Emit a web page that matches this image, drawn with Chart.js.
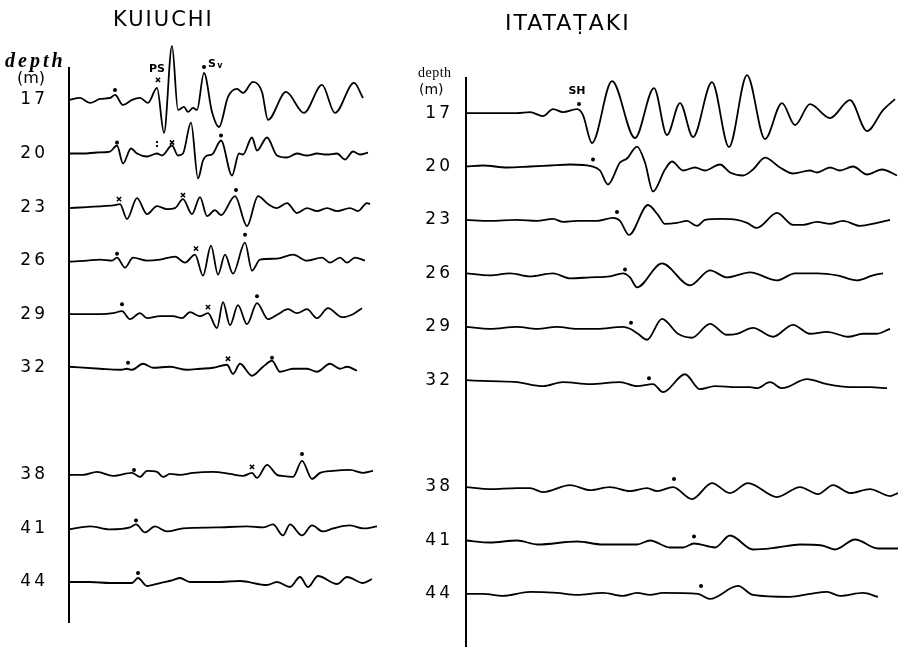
<!DOCTYPE html>
<html>
<head>
<meta charset="utf-8">
<script src="https://cdn.jsdelivr.net/npm/chart.js@4.4.0/dist/chart.umd.min.js"></script>
<style>
  body { margin: 0; background: #fff; width: 898px; height: 647px; position: relative; overflow: hidden; color: #000; font-family: 'DejaVu Sans', sans-serif; }
  canvas { position: absolute; top: 0; }
  .t { position: absolute; white-space: nowrap; line-height: 1; }
</style>
</head>
<body>
<canvas id="kui" width="390" height="647" style="left:0"></canvas>
<canvas id="ita" width="508" height="647" style="left:390px"></canvas>

<div class="t" style="left:113px;top:9px;font-size:21px;letter-spacing:2px">KUIUCHI</div>
<div class="t" style="left:505px;top:12px;font-size:22px;letter-spacing:2px">ITATAṬAKI</div>
<div class="t" style="left:5px;top:50px;font-size:20px;letter-spacing:3px;font-weight:bold;font-style:italic;font-family:'Liberation Serif',serif">depth</div>
<div class="t" style="left:17px;top:70px;font-size:16px">(m)</div>
<div class="t" style="left:418px;top:66px;font-size:14px;letter-spacing:0.5px;font-family:'Liberation Serif',serif">depth</div>
<div class="t" style="left:419px;top:82px;font-size:14px">(m)</div>

<script>
// depths of the records (m)
const kuiuchiDepths = [17, 20, 23, 26, 29, 32, 38, 41, 44];
const itatatakiDepths = [17, 20, 23, 26, 29, 32, 38, 41, 44];

// traces: [time, amplitude]
const kui17 = [[0,0],[11,2],[21,-3],[31,1],[41,2],[46,5],[54,-5],[63,0],[71,2],[79,-3],[88,12],[95,-33],[103,54],[109,-10],[115,-7],[119,-12],[124,-8],[128,-10],[135,27],[143,-12],[150,-27],[159,3],[168,11],[174,7],[184,18],[193,8],[199,-20],[217,8],[235,-13],[253,15],[266,-13],[285,17],[294,2]];
const kui20 = [[0,0],[14,0],[28,1],[41,2],[48,8],[54,-10],[62,5],[68,0],[78,-3],[88,0],[93,-2],[103,8],[109,-2],[114,0],[122,31],[129,-25],[134,-7],[138,-2],[143,-1],[152,13],[163,-22],[170,0],[174,-1],[183,16],[188,3],[198,16],[208,-2],[218,-4],[228,0],[238,-2],[248,0],[258,-1],[268,0],[276,-6],[284,2],[291,-1],[299,1]];
const kui23 = [[0,-1],[18,0],[34,1],[46,2],[51,3],[58,-12],[68,9],[78,-7],[88,1],[98,-2],[106,-1],[114,8],[123,-7],[131,10],[138,-9],[146,-3],[152,-8],[166,11],[178,-19],[189,11],[199,3],[208,-1],[218,4],[228,-6],[238,-1],[248,-4],[258,-1],[268,-4],[281,-1],[289,-4],[298,4],[301,3]];
const kui26 = [[0,-1],[18,0],[31,1],[43,0],[48,3],[56,-7],[64,3],[78,0],[91,1],[106,4],[116,-2],[126,6],[134,-15],[142,15],[149,-14],[156,6],[164,-13],[176,18],[183,-10],[191,1],[208,2],[224,6],[238,0],[253,3],[261,-2],[271,3],[278,-2],[286,3],[296,0]];
const kui29 = [[0,0],[18,0],[31,0],[44,1],[53,3],[61,-5],[71,1],[78,-4],[91,-2],[104,-2],[113,-4],[121,2],[131,-2],[139,1],[148,-14],[154,12],[161,-11],[169,9],[178,-10],[188,11],[199,-5],[209,0],[219,5],[228,1],[238,5],[248,-4],[259,6],[273,-3],[284,0],[293,6]];
const kui32 = [[0,1],[31,-1],[51,-2],[58,-1],[63,-2],[74,4],[84,0],[101,1],[118,-2],[131,-1],[144,0],[158,3],[164,-6],[171,4],[183,-8],[194,1],[203,7],[211,-4],[224,-1],[238,-1],[248,-4],[261,4],[271,-1],[278,1],[288,-3]];
const kui38 = [[0,0],[14,0],[28,3],[44,-1],[63,2],[71,-2],[78,4],[88,3],[94,-2],[101,1],[111,0],[124,2],[144,3],[161,1],[174,-1],[183,2],[188,-3],[198,10],[208,0],[213,-1],[224,-2],[233,14],[243,-4],[251,2],[264,4],[281,5],[294,2],[304,4]];
const kui41 = [[0,-1],[21,2],[41,-1],[61,1],[67,4],[76,-4],[86,2],[98,-3],[114,0],[148,1],[178,2],[194,1],[204,4],[214,-7],[221,4],[233,-7],[243,3],[254,-3],[264,0],[281,3],[294,0],[308,2]];
const kui44 = [[0,0],[21,0],[41,-1],[63,-1],[69,4],[78,-4],[91,-1],[104,2],[111,4],[121,0],[148,0],[171,1],[198,-3],[208,0],[221,-5],[231,5],[239,-5],[249,6],[268,-2],[278,5],[294,-1],[303,3]];

const ita17 = [[0,0],[24,0],[51,0],[64,1],[77,-3],[87,4],[97,1],[111,4],[117,-2],[126,-30],[146,32],[169,-25],[188,25],[201,-22],[214,10],[227,-24],[246,31],[263,-34],[281,38],[299,-26],[316,10],[329,-12],[344,9],[364,-5],[384,13],[401,-18],[417,3],[429,14]];
const ita20 = [[0,0],[17,1],[41,-1],[64,0],[84,1],[104,2],[127,0],[134,-4],[142,-18],[154,4],[161,8],[171,20],[179,4],[187,-25],[199,-3],[206,5],[217,-4],[229,-1],[239,-4],[254,2],[264,-6],[277,-9],[287,-3],[299,9],[314,-1],[327,-7],[344,-4],[351,-6],[364,-1],[374,-4],[387,0],[401,-8],[416,-3],[431,-9]];
const ita23 = [[0,0],[24,-1],[51,0],[71,-1],[87,1],[97,-2],[111,-1],[131,-1],[147,2],[154,-1],[163,-15],[182,15],[192,5],[199,-4],[211,-3],[221,-1],[231,-6],[239,0],[254,1],[271,0],[281,-3],[291,-8],[311,7],[327,-5],[337,-5],[351,-2],[364,-4],[377,-1],[394,-6],[411,-3],[424,0]];
const ita26 = [[0,0],[24,-2],[44,0],[64,-3],[87,0],[104,-5],[124,-4],[144,-3],[157,0],[164,-4],[171,-14],[196,10],[224,-12],[244,3],[261,-4],[284,1],[311,-7],[329,0],[351,0],[371,-2],[391,-7],[407,-2],[417,0]];
const ita29 = [[0,0],[24,-2],[51,0],[71,-2],[91,0],[111,-2],[131,-2],[157,0],[164,-2],[172,-7],[181,-13],[196,8],[212,-7],[226,-11],[244,3],[261,-8],[271,-7],[287,-1],[307,-10],[327,2],[344,-7],[361,-5],[382,-10],[397,-7],[411,-7],[424,-2]];
const ita32 = [[0,0],[24,-1],[51,-2],[77,-6],[97,-2],[124,-4],[154,-2],[171,-6],[187,-4],[197,-12],[219,6],[234,-9],[249,-6],[271,-7],[284,-7],[291,-8],[304,-2],[316,-8],[341,1],[361,-4],[384,-7],[404,-7],[421,-8]];
const ita38 = [[0,0],[24,-2],[51,-1],[64,-1],[77,-5],[104,2],[124,-3],[144,0],[164,-4],[181,-1],[191,-4],[207,0],[226,-12],[246,4],[264,-6],[282,4],[311,-10],[334,0],[352,-7],[367,2],[384,-6],[404,-2],[424,-9],[432,-6]];
const ita41 = [[0,0],[24,-2],[51,0],[72,-4],[111,-1],[137,-4],[171,-4],[184,0],[204,-7],[217,-7],[228,-3],[249,-7],[264,5],[287,-9],[311,-7],[334,-4],[356,-5],[369,-9],[389,1],[412,-8],[432,-8]];
const ita44 = [[0,0],[17,0],[37,-2],[64,2],[91,1],[111,-1],[137,1],[157,-2],[171,1],[184,-1],[197,1],[232,0],[244,-5],[272,8],[287,-1],[324,-3],[344,0],[361,2],[374,-2],[397,1],[412,-3]];

const kuiuchiTraces = [kui17, kui20, kui23, kui26, kui29, kui32, kui38, kui41, kui44];
const itatatakiTraces = [ita17, ita20, ita23, ita26, ita29, ita32, ita38, ita41, ita44];

// onset marks: [depth, time, amplitude]
const kuiuchiDots = [[17,46,10],[17,135,33],[20,48,11],[20,152,18],[23,167,17],[26,48,7],[26,176,26],[29,53,10],[29,188,18],[32,59,5],[32,203,10],[38,65,5],[38,233,21],[41,67,8],[44,69,9]];
const kuiuchiCrosses = [[17,89,20],[20,103,11],[23,50,8],[23,114,12],[26,127,12],[29,139,7],[32,159,9],[38,183,8]];
const itatatakiDots = [[17,113,9],[20,127,7],[23,151,8],[26,159,4],[29,165,4],[32,183,2],[38,208,8],[41,228,4],[44,235,8]];
const itatatakiCrosses = [];

// phase names: [text, subscript, depth, time, amplitude]
const kuiuchiLabels = [['PS', '', 17, 88, 31], ['S', 'v', 17, 143, 36], [':', '', 20, 88, 9]];
const itatatakiLabels = [['SH', '', 17, 111, 22]];

const GAIN = 0.056; // depth-axis metres per amplitude unit

const textPlugin = {
  id: 'phaseText',
  beforeDraw(chart) { chart.ctx.letterSpacing = '3px'; },
  afterDatasetsDraw(chart, args, opts) {
    const ctx = chart.ctx, xs = chart.scales.x, ys = chart.scales.y;
    ctx.save();
    ctx.letterSpacing = '0px';
    ctx.fillStyle = '#000';
    ctx.textAlign = 'center';
    ctx.textBaseline = 'middle';
    (opts.labels || []).forEach(([txt, sub, d, t, a]) => {
      const px = xs.getPixelForValue(t), py = ys.getPixelForValue(d - a * GAIN);
      ctx.font = "bold 11px 'DejaVu Sans', sans-serif";
      ctx.fillText(txt, px, py);
      if (sub) {
        const w = ctx.measureText(txt).width;
        ctx.font = "bold 8px 'DejaVu Sans', sans-serif";
        ctx.fillText(sub, px + w / 2 + 4, py + 2);
      }
    });
    ctx.restore();
  },
  afterDraw(chart) { chart.ctx.letterSpacing = '0px'; }
};

function marks(list) {
  return list.map(m => ({ x: m[1], y: m[0] - m[2] * GAIN }));
}

function makeChart(id, depths, traces, dots, crosses, labels, o) {
  const datasets = traces.map((pts, i) => ({
    data: pts.map(p => ({ x: p[0], y: depths[i] - p[1] * GAIN })),
    borderColor: '#000',
    borderWidth: 1.8,
    pointRadius: 0,
    cubicInterpolationMode: 'monotone',
    fill: false,
    clip: false
  }));
  datasets.push({
    data: marks(dots), showLine: false, pointStyle: 'circle', pointRadius: 2,
    backgroundColor: '#000', borderWidth: 0, clip: false
  });
  datasets.push({
    data: marks(crosses), showLine: false, pointStyle: 'crossRot', pointRadius: 3,
    borderColor: '#000', borderWidth: 1.5, clip: false
  });

  return new Chart(document.getElementById(id), {
    type: 'line',
    data: { datasets },
    options: {
      responsive: false,
      animation: false,
      devicePixelRatio: 1,
      events: [],
      layout: { autoPadding: false, padding: { top: o.padTop, bottom: o.padBottom, left: 0, right: 0 } },
      plugins: { legend: { display: false }, tooltip: { enabled: false }, phaseText: { labels } },
      scales: {
        x: { type: 'linear', min: 0, max: o.xMax, display: false },
        y: {
          type: 'linear', reverse: true, min: o.yMin, max: o.yMax,
          afterBuildTicks: s => { s.ticks = depths.map(v => ({ value: v })); },
          afterFit: s => { s.width = o.axisWidth; s.paddingTop = 0; s.paddingBottom = 0; },
          grid: { display: false, drawTicks: false },
          border: { display: true, color: '#000', width: 2 },
          ticks: {
            color: '#000', padding: o.tickPad,
            font: { family: "'DejaVu Sans', sans-serif", size: 17 },
            callback: v => String(v)
          }
        }
      }
    },
    plugins: [textPlugin]
  });
}

makeChart('kui', kuiuchiDepths, kuiuchiTraces, kuiuchiDots, kuiuchiCrosses, kuiuchiLabels,
  { yMin: 15.21, yMax: 46.24, xMax: 321, axisWidth: 69, padTop: 68, padBottom: 25, tickPad: 21 });
makeChart('ita', itatatakiDepths, itatatakiTraces, itatatakiDots, itatatakiCrosses, itatatakiLabels,
  { yMin: 15.03, yMax: 46.98, xMax: 432, axisWidth: 76, padTop: 78, padBottom: 0, tickPad: 13 });
</script>
</body>
</html>
